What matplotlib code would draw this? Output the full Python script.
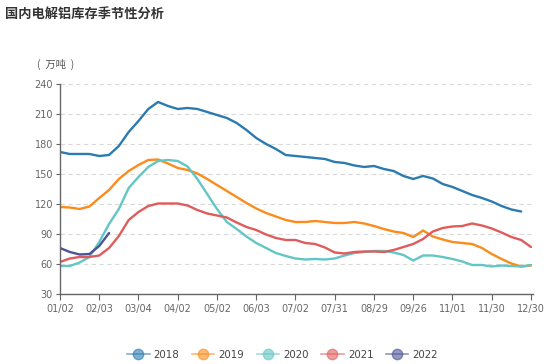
import matplotlib
matplotlib.use("Agg")
import matplotlib.pyplot as plt
from matplotlib.lines import Line2D
import numpy as np

plt.rcParams["font.family"] = ["DejaVu Sans", "Noto Sans CJK SC"]

tick_labels = ["01/02", "02/03", "03/04", "04/02", "05/02", "06/03", "07/02",
               "07/31", "08/29", "09/26", "11/01", "11/30", "12/30"]
years = ["2018", "2019", "2020", "2021", "2022"]

# weekly-ish readings, 4 per tick interval (万吨)
inv_2018 = [172, 170, 170, 170, 168, 169, 178, 192, 203, 215, 222, 218,
            215, 216, 215, 212, 209, 206, 201, 194, 186, 180, 175, 169,
            168, 167, 166, 165, 162, 161, 158.5, 157, 158, 155, 153, 148,
            145, 148, 145.5, 140, 137, 133, 129, 126, 122.5, 118, 114.5, 112.5]
inv_2019 = [117, 116.5, 115, 117.5, 126, 134, 145, 153, 159, 164, 164.5, 160.5,
            156, 154, 150.5, 145, 139, 133, 127, 121, 115.5, 111, 107.5, 104,
            102, 102, 103, 102, 101, 101, 102, 100.5, 98, 95, 92.5, 91,
            87, 93.5, 87.5, 84.5, 82, 81, 80, 76, 70, 65, 60.5, 57.5, 58.5]
inv_2020 = [58, 58, 61.5, 67, 82, 100, 115, 136, 147, 157, 163, 164,
            163, 157.5, 145, 130, 115, 102, 95, 87.5, 81, 76, 71, 68,
            65.5, 64.5, 65, 64.5, 65.5, 68.5, 71, 72, 73, 73, 71.5, 69,
            63.5, 68.5, 68.5, 67, 65, 62.5, 59, 59, 57.5, 58.5, 58, 57.5, 59]
inv_2021 = [62, 65.5, 67, 67, 68.5, 76, 88, 104, 112, 118, 120.5, 120.5,
            120.5, 118.5, 114, 110.5, 108.5, 106.5, 101.5, 97, 94, 89.5, 86, 84,
            84, 81, 80, 76.5, 71.5, 70.5, 72, 72.5, 72.5, 72, 74, 77,
            80, 85, 92.5, 96, 97.5, 98, 100.5, 98.5, 95.5, 91.5, 87, 84, 77]
inv_2022 = [76, 72, 69.5, 70, 78, 91]

series = [inv_2018, inv_2019, inv_2020, inv_2021, inv_2022]
colors = ["#2b7bb0", "#fb8c1c", "#62c6c4", "#e05c5c", "#4b5596"]

fig = plt.figure(figsize=(5.54, 3.64), dpi=100)
ax = fig.add_axes([0.1083, 0.1923, 0.8537, 0.577])

for vals, c in zip(series, colors):
    ax.plot(np.arange(len(vals)), vals, color=c, lw=1.7, solid_capstyle="round")

ax.set_xlim(0, 48.2)
ax.set_ylim(30, 240)
ax.set_yticks(np.arange(30, 241, 30))
ax.set_xticks(np.arange(0, 49, 4))
ax.set_xticklabels(tick_labels)
ax.yaxis.grid(True, linestyle=(0, (4, 3)), color="#d9d9d9", lw=0.8)
ax.set_axisbelow(True)

for s in ["top", "right"]:
    ax.spines[s].set_visible(False)
for s in ["left", "bottom"]:
    ax.spines[s].set_color("#666666")
    ax.spines[s].set_linewidth(1.0)
ax.tick_params(axis="x", length=4, color="#666666", labelcolor="#666666",
               labelsize=7, pad=3)
ax.tick_params(axis="y", length=3, color="#666666", labelcolor="#666666",
               labelsize=7, pad=2)

fig.text(0.009, 0.963, "国内电解铝库存季节性分析", fontsize=9.5, fontweight="bold",
         color="#333333", family=["Noto Sans CJK SC", "DejaVu Sans"], va="center")
fig.text(0.066, 0.824, "(  万吨  )", fontsize=7.5, color="#555555",
         family=["Noto Sans CJK SC", "DejaVu Sans"], va="center")

handles = [Line2D([0], [0], color=c, lw=1.2, alpha=0.6, marker="o", markersize=7.5,
                  markerfacecolor=c, markeredgecolor=c) for c in colors]
fig.legend(handles, years, loc="center", bbox_to_anchor=(0.51, 0.025), ncol=5,
           frameon=False, fontsize=7.4, handlelength=2.2, handletextpad=0.4,
           columnspacing=1.2, labelcolor="#444444")

fig.savefig("out.png", dpi=100)
